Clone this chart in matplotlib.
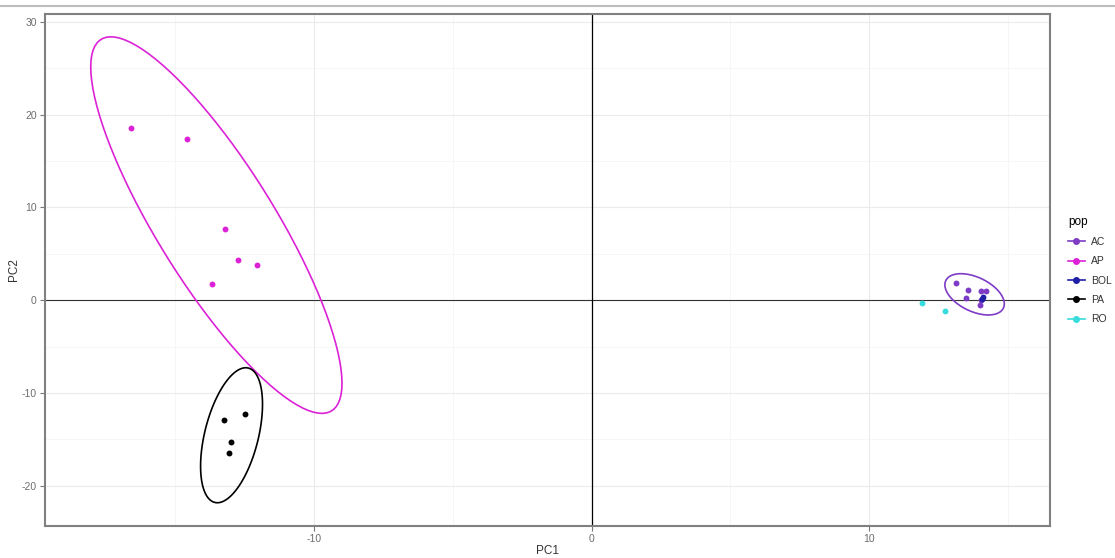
import numpy as np
import matplotlib.pyplot as plt
from matplotlib.lines import Line2D
from matplotlib.patches import Polygon

plt.rcParams['axes.unicode_minus'] = False
plt.rcParams['font.family'] = ['Liberation Sans', 'DejaVu Sans']

# PCA scores per population
pops = ['AC', 'AP', 'BOL', 'PA', 'RO']
colors = {'AC': '#7E3CC6', 'AP': '#DC22D6', 'BOL': '#1F1FA8', 'PA': '#000000', 'RO': '#38DCDC'}

pc1 = {
    'AC': [13.13, 13.57, 13.48, 14.04, 14.20, 14.02, 13.99],
    'AP': [-16.61, -14.57, -13.21, -12.73, -12.05, -13.67],
    'BOL': [14.10, 14.07],
    'PA': [-13.26, -12.49, -13.00, -13.08],
    'RO': [11.92, 12.73],
}
pc2 = {
    'AC': [1.85, 1.14, 0.22, 1.00, 0.94, 0.00, -0.47],
    'AP': [18.55, 17.34, 7.69, 4.31, 3.81, 1.76],
    'BOL': [0.36, 0.11],
    'PA': [-12.94, -12.22, -15.24, -16.50],
    'RO': [-0.32, -1.15],
}


def cov_trob(x, nu=5, maxit=25, tol=0.01):
    # multivariate t robust covariance (same scheme as MASS::cov.trob)
    n, p = x.shape
    wt = np.ones(n)
    loc = x.mean(axis=0)
    w = np.sqrt(wt)
    for _ in range(maxit):
        w0 = w
        X = x - loc
        _, d, vt = np.linalg.svd(np.sqrt(w / w.sum())[:, None] * X, full_matrices=False)
        wX = X @ vt.T @ np.diag(1 / d)
        Q = (wX ** 2).sum(axis=1)
        w = wt * (nu + p) / (nu + Q)
        loc = (w[:, None] * x).sum(axis=0) / w.sum()
        if np.all(np.abs(w - w0) < tol):
            break
    sX = np.sqrt(w)[:, None] * X
    return loc, sX.T @ sX / wt.sum()


def ellipse_path(xs, ys, level=0.95, segments=100):
    pts = np.column_stack([xs, ys])
    center, shape = cov_trob(pts)
    dfd = len(xs) - 1
    q = dfd / 2 * ((1 - level) ** (-2 / dfd) - 1)  # F(2, dfd) quantile
    radius = np.sqrt(2 * q)
    t = np.linspace(0, 2 * np.pi, segments, endpoint=False)
    circ = np.column_stack([np.cos(t), np.sin(t)])
    chol = np.linalg.cholesky(shape).T
    return center + radius * circ @ chol


fig = plt.figure(figsize=(11.15, 5.58), dpi=100)
ax = fig.add_axes([0.0404, 0.0573, 0.9013, 0.9185])

allx, ally = [], []
for p in pops:
    ax.scatter(pc1[p], pc2[p], s=18, color=colors[p], zorder=3, linewidths=0)
    allx += pc1[p]
    ally += pc2[p]
    if len(pc1[p]) >= 4:
        e = ellipse_path(pc1[p], pc2[p])
        ax.add_patch(Polygon(e, closed=True, fill=False, edgecolor=colors[p],
                             lw=1.2, zorder=2))
        allx += list(e[:, 0])
        ally += list(e[:, 1])

# 5% padding on each side like ggplot
x0, x1 = min(allx), max(allx)
y0, y1 = min(ally), max(ally)
ax.set_xlim(x0 - 0.05 * (x1 - x0), x1 + 0.05 * (x1 - x0))
ax.set_ylim(y0 - 0.05 * (y1 - y0), y1 + 0.05 * (y1 - y0))

ax.set_xticks([-10, 0, 10])
ax.set_yticks([-20, -10, 0, 10, 20, 30])
ax.set_xticks([-15, -5, 5, 15], minor=True)
ax.set_yticks([-15, -5, 5, 15, 25], minor=True)
ax.grid(which='major', color='#EBEBEB', lw=0.8)
ax.grid(which='minor', color='#F3F3F3', lw=0.5)
ax.set_axisbelow(True)
ax.tick_params(which='major', length=3.5, width=0.8, color='#777777',
               labelsize=7.5, labelcolor='#6E6E6E', pad=2.5)
ax.tick_params(which='minor', length=0)
for s in ax.spines.values():
    s.set_color('#808080')
    s.set_linewidth(1.5)

ax.axhline(0, color='#333333', lw=0.8, zorder=1)
ax.axvline(0, color='#000000', lw=0.9, zorder=1)

ax.set_xlabel('PC1', fontsize=8.5, color='#333333', labelpad=0.5)
ax.set_ylabel('PC2', fontsize=8.5, color='#333333', labelpad=1.5)

handles = [Line2D([0], [0], color=colors[p], marker='o', markersize=4, lw=1.2) for p in pops]
leg = fig.legend(handles, pops, title='pop', loc='upper left',
                 bbox_to_anchor=(0.9494, 0.630), frameon=False,
                 fontsize=7.5, title_fontsize=8.5, handlelength=1.6,
                 labelspacing=0.89, handletextpad=0.6)
leg._legend_box.align = 'left'
for t in leg.get_texts():
    t.set_color('#333333')

fig.add_artist(Line2D([0, 1], [0.989, 0.989], color='#BDBDBD', lw=1.5))

fig.savefig('out.png', dpi=100)
